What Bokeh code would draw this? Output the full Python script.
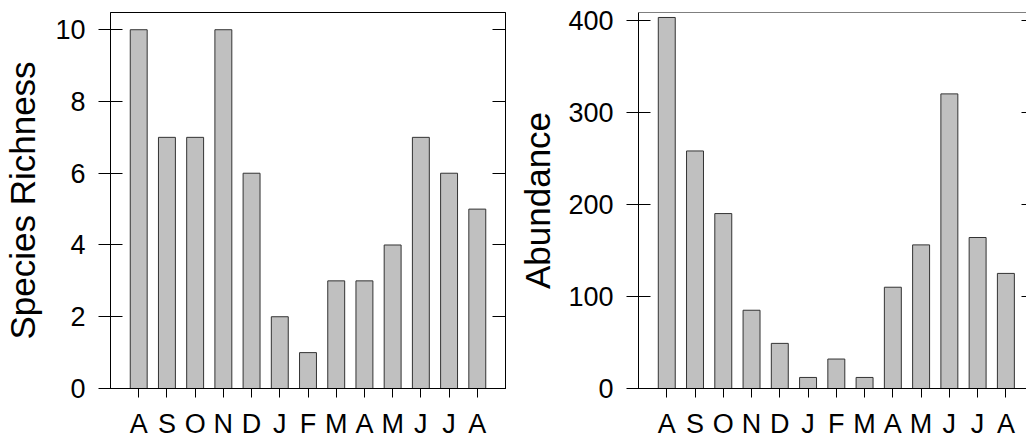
from bokeh.plotting import figure
from bokeh.layouts import row
from bokeh.models import FixedTicker, Range1d, LinearAxis, Span, CustomJSTickFormatter
from bokeh.embed import file_html
from bokeh.resources import INLINE

months = ["A", "S", "O", "N", "D", "J", "F", "M", "A", "M", "J", "J", "A"]
richness = [10, 7, 7, 10, 6, 2, 1, 3, 3, 4, 7, 6, 5]
abundance = [403, 258, 190, 85, 49, 12, 32, 12, 110, 156, 320, 164, 125]
richness_ticks = [0, 2, 4, 6, 8, 10]
abundance_ticks = [0, 100, 200, 300, 400]

FONT = "Liberation Sans"
positions = list(range(1, len(months) + 1))
overrides = {p: m for p, m in zip(positions, months)}


def make(values, yticks, ymax, xmax, ylabel, width, border_left, border_right,
         title_standoff, full_box, right_tick_in):
    p = figure(width=width, height=442, output_backend="svg", toolbar_location=None,
               x_range=Range1d(0, xmax), y_range=Range1d(0, ymax),
               min_border_left=border_left, min_border_right=border_right,
               min_border_top=12, min_border_bottom=54)
    p.background_fill_color = "white"
    p.border_fill_color = "white"
    p.xgrid.visible = False
    p.ygrid.visible = False
    if full_box:
        p.outline_line_color = "black"
        p.outline_line_width = 1
        p.outline_line_alpha = 1
    else:
        p.outline_line_color = None
        p.add_layout(Span(location=ymax, dimension="width", line_color="black", line_width=1))

    p.vbar(x=positions, top=values, width=0.6, fill_color="#c0c0c0",
           line_color="#333333", line_width=1)

    ya = p.yaxis[0]
    ya.ticker = FixedTicker(ticks=yticks)
    ya.minor_tick_line_color = None
    ya.major_tick_in = 12
    ya.major_tick_out = 12
    ya.axis_line_color = "black"
    ya.major_tick_line_color = "black"
    ya.major_label_text_font = FONT
    ya.major_label_text_font_size = "27px"
    ya.major_label_text_color = "black"
    ya.major_label_standoff = 13
    ya.axis_label = ylabel
    ya.axis_label_text_font = FONT
    ya.axis_label_text_font_size = "35px"
    ya.axis_label_text_font_style = "normal"
    ya.axis_label_text_color = "black"
    ya.axis_label_standoff = title_standoff

    xa = p.xaxis[0]
    xa.ticker = FixedTicker(ticks=positions)
    xa.major_label_overrides = overrides
    xa.minor_tick_line_color = None
    xa.major_tick_in = 0
    xa.major_tick_out = 9
    xa.axis_line_color = "black"
    xa.major_tick_line_color = "black"
    xa.major_label_text_font = FONT
    xa.major_label_text_font_size = "27px"
    xa.major_label_text_color = "black"
    xa.major_label_standoff = 11

    ra = LinearAxis(ticker=FixedTicker(ticks=yticks),
                    formatter=CustomJSTickFormatter(code="return ''"))
    ra.major_tick_in = right_tick_in
    ra.major_tick_out = 0
    ra.minor_tick_line_color = None
    ra.major_label_standoff = 0
    ra.axis_line_color = "black" if full_box else None
    ra.major_tick_line_color = "black"
    p.add_layout(ra, "right")
    return p


p1 = make(richness, richness_ticks, 10.48, 14.0, "Species Richness",
          width=515, border_left=108, border_right=10, title_standoff=10,
          full_box=True, right_tick_in=13)
p2 = make(abundance, abundance_ticks, 408.4, 389 / 28.333, "Abundance",
          width=511, border_left=122, border_right=0, title_standoff=8,
          full_box=False, right_tick_in=5)

layout = row(p1, p2)
open("out.html", "w").write(file_html(layout, INLINE))
